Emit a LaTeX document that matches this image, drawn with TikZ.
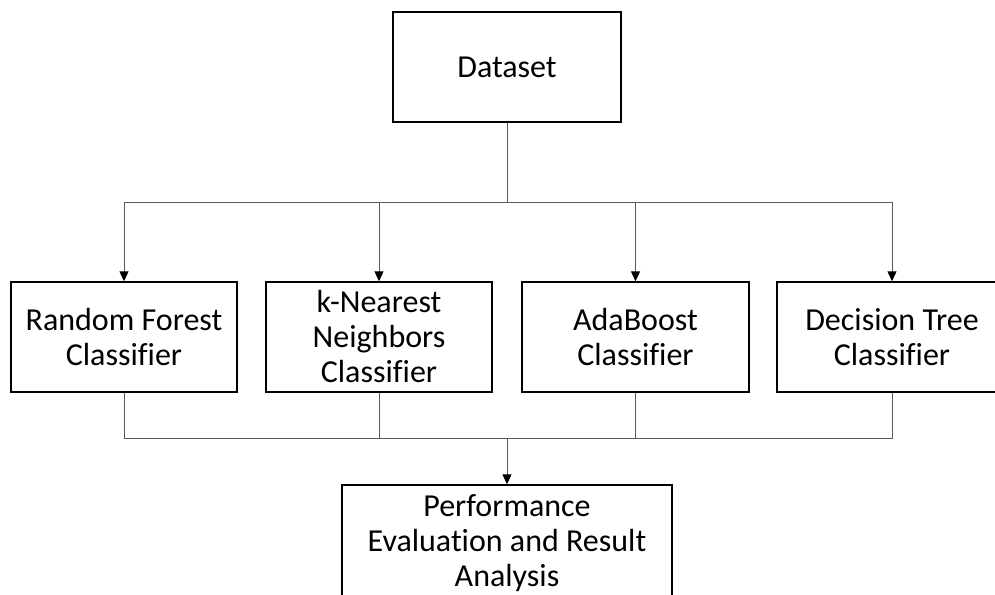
\documentclass[tikz,border=0pt]{standalone}
\usepackage{fontspec}
\setmainfont{Carlito}[Ligatures=CommonOff]
\usetikzlibrary{arrows.meta,positioning}

\begin{document}
\begin{tikzpicture}[x=1pt,y=-1pt,>={Triangle[length=10pt,width=9pt,color=black]},
                    box/.style={draw,line width=1.4pt,align=center,inner sep=0pt,
                                font=\fontsize{32}{35}\selectfont},
                    link/.style={draw=black!65,line width=1pt}]

  \useasboundingbox (0,0) rectangle (995,594);
  \clip (0,0) rectangle (995,594);

  \node[box,minimum width=228pt,minimum height=110pt] (data) at (507,67) {Dataset};

  \node[box,minimum width=226pt,minimum height=110pt] (rf) at (124,337) {Random Forest\\Classifier};
  \node[box,minimum width=226pt,minimum height=110pt] (knn) at (379,337) {k-Nearest\\Neighbors\\Classifier};
  \node[box,minimum width=227pt,minimum height=110pt] (ada) at (635.5,337) {AdaBoost\\Classifier};
  \node[box,minimum width=230pt,minimum height=110pt] (dt) at (892,337) {Decision Tree\\Classifier};

  \node[box,minimum width=330pt,minimum height=116pt] (result) at (507,543)
  	{Performance\\Evaluation and Result\\Analysis};

  \coordinate (split) at (507,202);
  \coordinate (join) at (507,438);

  \draw[link] (data) -- (split);
  \foreach \n in {rf,knn,ada,dt}
  	\draw[link,->] (split) -| (\n.north);
  \foreach \n in {rf,knn,ada,dt}
  	\draw[link] (\n.south) |- (join);
  \draw[link,->] (join) -- (result);
\end{tikzpicture}
\end{document}
